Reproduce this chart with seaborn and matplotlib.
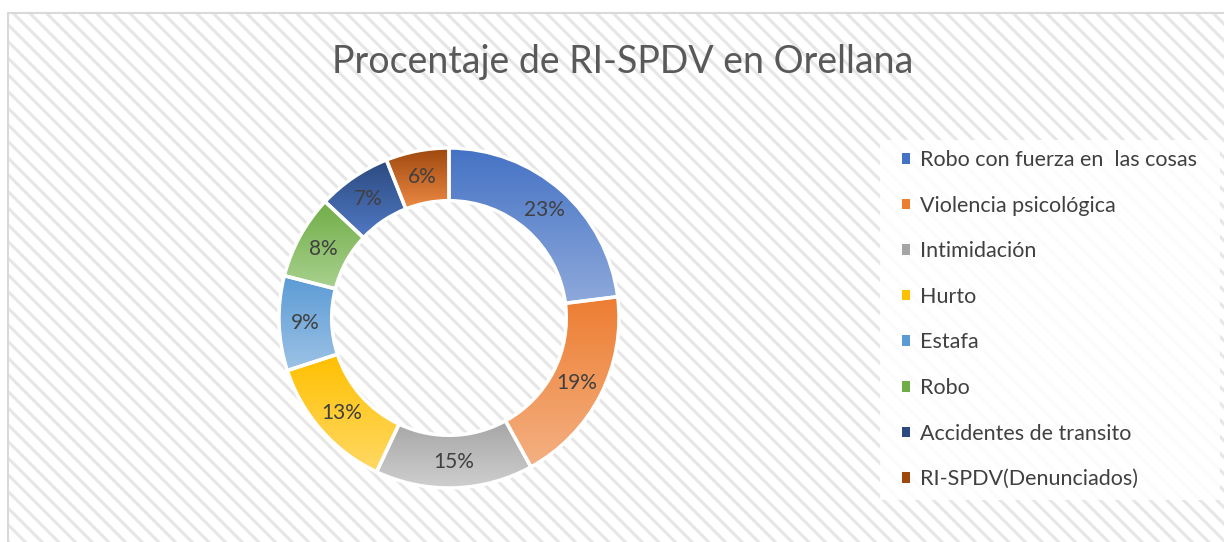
import numpy as np
import matplotlib
matplotlib.use("Agg")
import matplotlib.pyplot as plt
import matplotlib.colors as mcolors
from matplotlib.patches import Rectangle, Patch
import seaborn as sns

# %% DATA

categories = ['Robo con fuerza en  las cosas', 'Violencia psicológica', 'Intimidación',
              'Hurto', 'Estafa', 'Robo', 'Accidentes de transito', 'RI-SPDV(Denunciados)']
percent = [23, 19, 15, 13, 9, 8, 7, 6]
# gradient: colour at top of each slice -> colour at bottom
top_colors = ['#4472C4', '#ED7D31', '#A5A5A5', '#FFC000',
              '#5B9BD5', '#70AD47', '#2C4A80', '#9E480E']
bottom_colors = ['#8EA9DB', '#F4B183', '#CFCFCF', '#FFD966',
                 '#9DC3E6', '#A9D18E', '#5079C4', '#EE8A45']

sns.set_theme(style='white')
plt.rcParams['font.family'] = ['Lato', 'DejaVu Sans']
plt.rcParams['hatch.linewidth'] = 2.2

palette = sns.color_palette(top_colors)

W, H = 1224, 542
fig = plt.figure(figsize=(W / 100, H / 100), dpi=100)
fig.patch.set_facecolor('white')

# striped chart-area background + frame
fig.patches.append(Rectangle((8 / W, -0.1), 1.2, 1 - 13 / H + 0.1, transform=fig.transFigure,
                             facecolor='white', edgecolor='#e6e6e6', hatch='\\\\', linewidth=0,
                             zorder=-3))
fig.patches.append(Rectangle((8 / W, -0.1), 1.2, 1 - 13 / H + 0.1, transform=fig.transFigure,
                             facecolor='none', edgecolor='#d9d9d9', linewidth=1.5, zorder=-2))
# legend box
fig.patches.append(Rectangle((880 / W, 1 - 500 / H), 340 / W, 360 / H, transform=fig.transFigure,
                             facecolor='white', alpha=0.85, edgecolor='none', zorder=-1))

# %% DONUT

cx, cy, r = 449, 318, 170
ax = fig.add_axes([(cx - r) / W, (H - cy - r) / H, 2 * r / W, 2 * r / H])
ax.patch.set_alpha(0)

width = 0.31
wedges, texts, autotexts = ax.pie(
    percent, colors=palette, startangle=90, counterclock=False,
    autopct='%1.0f%%', pctdistance=1 - width / 2,
    wedgeprops=dict(width=width, edgecolor='white', linewidth=2.5),
    textprops=dict(color='#404040', fontsize=15),
)

grad = np.linspace(0, 1, 256).reshape(-1, 1)
for w, c0, c1 in zip(wedges, top_colors, bottom_colors):
    cmap = mcolors.LinearSegmentedColormap.from_list('g', [c0, c1])
    ext = w.get_path().get_extents()
    im = ax.imshow(grad, cmap=cmap, aspect='auto', origin='upper',
                   extent=[ext.x0, ext.x1, ext.y0, ext.y1], zorder=1)
    im.set_clip_path(w)
    w.set_facecolor('none')
    w.set_zorder(2)
    w.set_clip_on(False)

for t in autotexts:
    t.set_zorder(3)

ax.set_xlim(-1, 1)
ax.set_ylim(-1, 1)
ax.set_aspect('equal')
ax.axis('off')

# %% LEGEND

handles = [Patch(facecolor=c, edgecolor='none') for c in top_colors]
leg = fig.legend(handles, categories, loc='upper left',
                 bbox_to_anchor=(902 / W, 1 - 150 / H),
                 frameon=False, fontsize=15.5,
                 handlelength=0.38, handleheight=0.38, handletextpad=0.45,
                 labelspacing=1.19, borderpad=0, borderaxespad=0)
for t in leg.get_texts():
    t.set_color('#404040')

# %% TITLE

fig.text(623 / W, 1 - 62 / H, 'Procentaje de RI-SPDV en Orellana',
         ha='center', va='center', fontsize=27, color='#595959')

fig.savefig('out.png', dpi=100, facecolor='white')
